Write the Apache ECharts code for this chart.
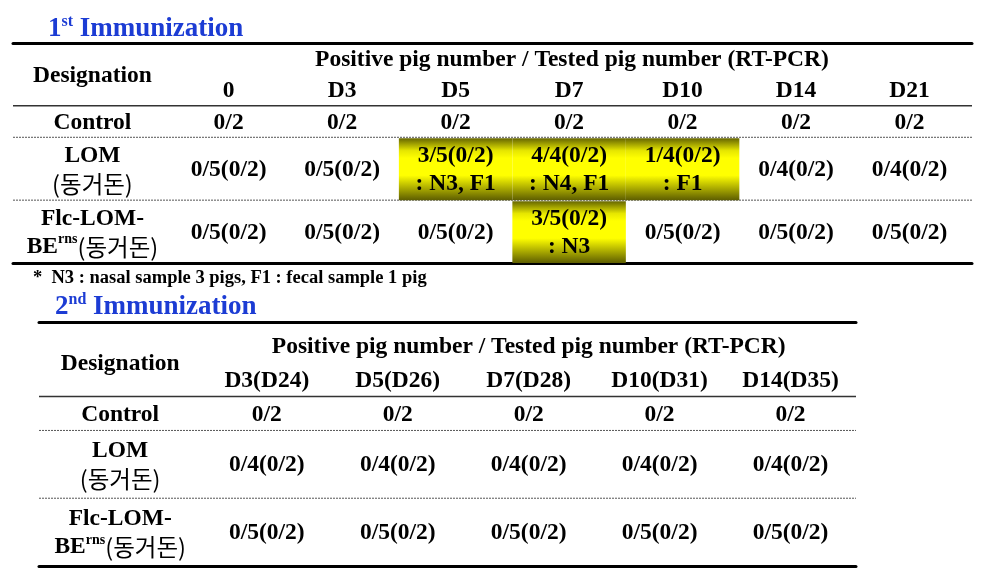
<!DOCTYPE html>
<html><head><meta charset="utf-8">
<script src="https://cdn.jsdelivr.net/npm/echarts@6/dist/echarts.min.js"></script>
<style>html,body{margin:0;padding:0;background:#fff}#c{width:984px;height:578px}</style>
</head><body><div id="c"></div>
<script>
// ---- data ----
const title1 = '{n|1}{s|st}{n| Immunization}';
const title2 = '{n|2}{s|nd}{n| Immunization}';
const headerTitle = 'Positive pig number / Tested pig number (RT-PCR)';
const designationLabel = 'Designation';
const days1 = ['0', 'D3', 'D5', 'D7', 'D10', 'D14', 'D21'];
const days2 = ['D3(D24)', 'D5(D26)', 'D7(D28)', 'D10(D31)', 'D14(D35)'];
const groups = ['Control', 'LOM\n{k|(동거돈)}', 'Flc-LOM-\nBE{sup|rns}{k|(동거돈)}'];
const groupLines = [1, 2, 2];
const control1 = ['0/2', '0/2', '0/2', '0/2', '0/2', '0/2', '0/2'];
const lom1 = ['0/5(0/2)', '0/5(0/2)', '3/5(0/2)\n: N3, F1', '4/4(0/2)\n: N4, F1', '1/4(0/2)\n: F1', '0/4(0/2)', '0/4(0/2)'];
const flc1 = ['0/5(0/2)', '0/5(0/2)', '0/5(0/2)', '3/5(0/2)\n: N3', '0/5(0/2)', '0/5(0/2)', '0/5(0/2)'];
const control2 = ['0/2', '0/2', '0/2', '0/2', '0/2'];
const lom2 = ['0/4(0/2)', '0/4(0/2)', '0/4(0/2)', '0/4(0/2)', '0/4(0/2)'];
const flc2 = ['0/5(0/2)', '0/5(0/2)', '0/5(0/2)', '0/5(0/2)', '0/5(0/2)'];
const footnote = '*  N3 : nasal sample 3 pigs, F1 : fecal sample 1 pig';

// ---- styles ----
const SERIF = '"Liberation Serif", "Times New Roman", serif';
const KR = '"Noto Sans CJK KR", sans-serif';
const BLUE = '#1c3cd4';
const FS = 23.5;
const RICH = {
  k: { fontFamily: KR, fontWeight: 'normal', fontSize: 23.5, fill: '#000' },
  sup: { fontFamily: SERIF, fontWeight: 'bold', fontSize: 14, verticalAlign: 'top', lineHeight: 14, fill: '#000' }
};

function buildCells(days, rows) {
  const cells = [];
  cells.push({ value: [-1, -2, 0], kind: 'desig', text: designationLabel });
  cells.push({ value: [(days.length - 1) / 2, -2, -1], kind: 'span', text: headerTitle });
  days.forEach((d, i) => cells.push({ value: [i, -1, 0], kind: 'cell', text: d }));
  let y = 0;
  rows.forEach((vals, r) => {
    const y0 = y, y1 = y + groupLines[r];
    cells.push({ value: [-1, y0, y1], kind: 'desig', text: groups[r] });
    vals.forEach((v, i) => cells.push({ value: [i, y0, y1], kind: 'cell', text: v, hi: parseInt(v, 10) > 0 }));
    y = y1;
  });
  return cells;
}
function buildRules() {
  const rules = [{ value: [0, 0], dashed: false }];
  let y = 0;
  groupLines.forEach((n, r) => { if (r > 0) rules.push({ value: [0, y], dashed: true }); y += n; });
  return rules;
}

function cellRenderer(cells) {
  return function (params, api) {
    const c = cells[params.dataIndex];
    const cs = params.coordSys;
    const xi = api.value(0), y0 = api.value(1), y1 = api.value(2);
    let xl, xr;
    if (c.kind === 'desig') {
      xl = cs.x; xr = api.coord([-0.5, 0])[0];
    } else if (c.kind === 'span') {
      xl = api.coord([-0.5, 0])[0]; xr = cs.x + cs.width;
    } else {
      xl = api.coord([xi - 0.5, 0])[0]; xr = api.coord([xi + 0.5, 0])[0];
    }
    const yt = api.coord([0, y0])[1], yb = api.coord([0, y1])[1];
    const children = [];
    if (c.hi) {
      children.push({
        type: 'rect',
        shape: { x: xl, y: yt + 1, width: xr - xl, height: yb - yt - 1 },
        style: {
          fill: new echarts.graphic.LinearGradient(0, 0, 0, 1, [
            { offset: 0, color: '#666600' }, { offset: 0.2, color: '#e6e600' },
            { offset: 0.32, color: '#ffff00' }, { offset: 0.6, color: '#ffff00' },
            { offset: 1, color: '#5e5e00' }
          ])
        }
      });
    }
    children.push({
      type: 'text',
      style: {
        text: c.text, x: (xl + xr) / 2, y: (yt + yb) / 2 + 1,
        align: 'center', verticalAlign: 'middle',
        fontFamily: SERIF, fontWeight: 'bold', fontSize: FS, lineHeight: 28,
        fill: '#000', rich: RICH
      }
    });
    return { type: 'group', children: children };
  };
}
function ruleRenderer(rules) {
  return function (params, api) {
    const r = rules[params.dataIndex];
    const cs = params.coordSys;
    const y = api.coord([0, api.value(1)])[1];
    return {
      type: 'line',
      shape: { x1: cs.x, y1: y, x2: cs.x + cs.width, y2: y },
      style: r.dashed ? { stroke: '#555', lineWidth: 1, lineDash: [2, 1] } : { stroke: '#333', lineWidth: 1.5 }
    };
  };
}

const cells1 = buildCells(days1, [control1, lom1, flc1]);
const cells2 = buildCells(days2, [control2, lom2, flc2]);
const rules1 = buildRules();
const rules2 = buildRules();

function xAx(grid, min, max, pos) {
  return {
    gridIndex: grid, type: 'value', min: min, max: max, position: pos,
    axisLine: { show: true, onZero: false, lineStyle: { color: '#000', width: 3 } },
    axisTick: { show: false }, axisLabel: { show: false }, splitLine: { show: false }
  };
}
const titleRich = {
  n: { fontFamily: SERIF, fontWeight: 'bold', fontSize: 27, color: BLUE, lineHeight: 30 },
  s: { fontFamily: SERIF, fontWeight: 'bold', fontSize: 16, color: BLUE, verticalAlign: 'top', lineHeight: 16 }
};

const chart = echarts.init(document.getElementById('c'));
chart.setOption({
  animation: false,
  backgroundColor: '#fff',
  title: [
    { text: title1, left: 48, top: 14, padding: 0, textStyle: { rich: titleRich } },
    { text: title2, left: 55, top: 292, padding: 0, textStyle: { rich: titleRich } },
    { text: footnote, left: 33, top: 269, padding: 0,
      textStyle: { fontFamily: SERIF, fontWeight: 'bold', fontSize: 18.5, color: '#000', lineHeight: 18 } }
  ],
  grid: [
    { left: 13, right: 12, top: 43, bottom: 315 },
    { left: 39, right: 128, top: 322, bottom: 12 }
  ],
  xAxis: [
    xAx(0, -1.9, 6.55, 'top'), xAx(0, -1.9, 6.55, 'bottom'),
    xAx(1, -1.74, 4.5, 'top'), xAx(1, -1.74, 4.5, 'bottom')
  ],
  yAxis: [
    { gridIndex: 0, type: 'value', inverse: true, min: -2, max: 5, show: false },
    { gridIndex: 1, type: 'value', inverse: true, min: -2.2, max: 5, show: false }
  ],
  series: [
    { type: 'custom', xAxisIndex: 0, yAxisIndex: 0, data: rules1, renderItem: ruleRenderer(rules1), encode: { x: 0, y: 1 } },
    { type: 'custom', xAxisIndex: 0, yAxisIndex: 0, data: cells1, renderItem: cellRenderer(cells1), encode: { x: 0, y: [1, 2] } },
    { type: 'custom', xAxisIndex: 2, yAxisIndex: 1, data: rules2, renderItem: ruleRenderer(rules2), encode: { x: 0, y: 1 } },
    { type: 'custom', xAxisIndex: 2, yAxisIndex: 1, data: cells2, renderItem: cellRenderer(cells2), encode: { x: 0, y: [1, 2] } }
  ]
});
</script></body></html>
